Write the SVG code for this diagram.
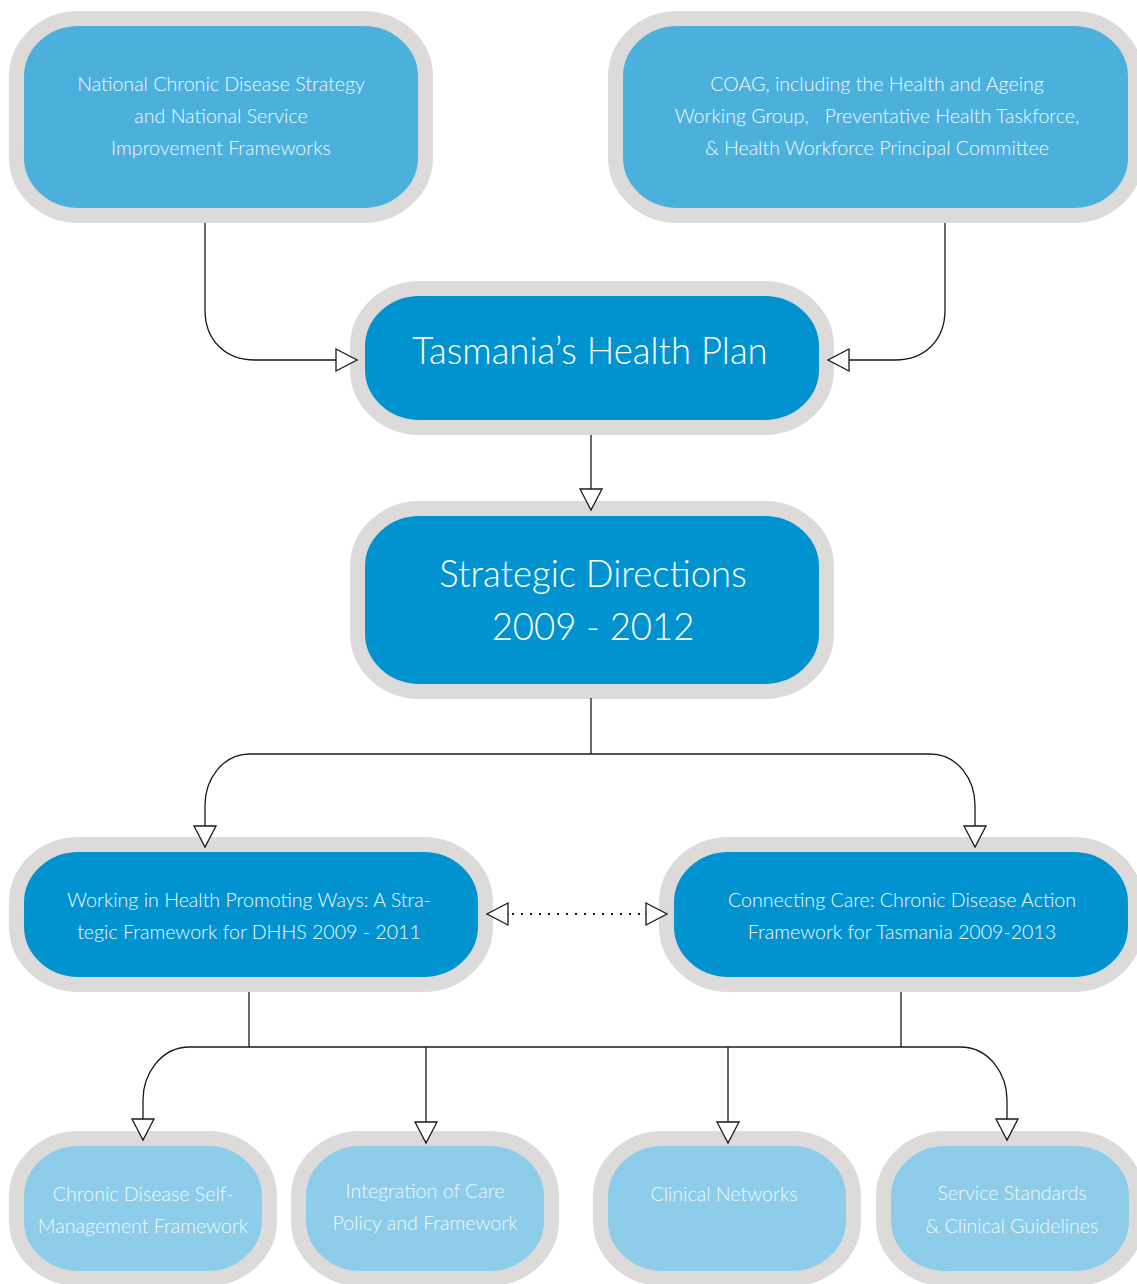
<svg xmlns="http://www.w3.org/2000/svg" width="1137" height="1284" viewBox="0 0 1137 1284">
<style>
.box{stroke:#dcdbda;stroke-width:15}
.mid{fill:#4cb0dc}
.dark{fill:#0093d0}
.light{fill:#8dcde9}
.t{font-family:Lato,"Open Sans","Liberation Sans",sans-serif;font-weight:300;fill:#f2f9fd;text-anchor:middle}
.s{font-size:19.6px}
.b{font-size:36.5px;fill:#ffffff}
.c{fill:none;stroke:#1a1a1a;stroke-width:1.3}
</style>
<defs>
<marker id="ah" markerWidth="24" markerHeight="26" refX="22" refY="12" orient="auto" markerUnits="userSpaceOnUse">
<path d="M1,1 L22,12 L1,23 Z" fill="#fff" stroke="#1a1a1a" stroke-width="1.3"/>
</marker>
</defs>
<rect width="1137" height="1284" fill="#fff"/>
<g id="national">
<rect class="box mid" x="16.5" y="18.5" width="409" height="197" rx="62" ry="58"/>
<text class="t s" x="221" y="91">National Chronic Disease Strategy</text>
<text class="t s" x="221" y="123">and National Service</text>
<text class="t s" x="221" y="155">Improvement Frameworks</text>
</g>
<g id="coag">
<rect class="box mid" x="615.5" y="18.5" width="520" height="197" rx="62" ry="58"/>
<text class="t s" x="877" y="91">COAG, including the Health and Ageing</text>
<text class="t s" x="877" y="123" xml:space="preserve">Working Group,   Preventative Health Taskforce,</text>
<text class="t s" x="877" y="155">&amp; Health Workforce Principal Committee</text>
</g>
<g id="thp">
<rect class="box dark" x="357.5" y="288.5" width="469" height="139" rx="62" ry="58"/>
<text class="t b" x="590" y="364">Tasmania’s Health Plan</text>
</g>
<g id="strategic">
<rect class="box dark" x="357.5" y="508.5" width="469" height="183" rx="62" ry="58"/>
<text class="t b" x="593" y="587">Strategic Directions</text>
<text class="t b" x="593" y="640">2009 - 2012</text>
</g>
<g id="working">
<rect class="box dark" x="16.5" y="844.5" width="469" height="140" rx="62" ry="58"/>
<text class="t s" x="249" y="907">Working in Health Promoting Ways: A Stra-</text>
<text class="t s" x="249" y="939">tegic Framework for DHHS 2009 - 2011</text>
</g>
<g id="connecting">
<rect class="box dark" x="666.5" y="844.5" width="469" height="140" rx="62" ry="58"/>
<text class="t s" x="902" y="907">Connecting Care: Chronic Disease Action</text>
<text class="t s" x="902" y="939">Framework for Tasmania 2009-2013</text>
</g>
<g id="selfmgmt">
<rect class="box light" x="16.5" y="1138.5" width="253" height="140" rx="62" ry="58"/>
<text class="t s" x="143" y="1201">Chronic Disease Self-</text>
<text class="t s" x="143" y="1233">Management Framework</text>
</g>
<g id="integration">
<rect class="box light" x="298.5" y="1138.5" width="253" height="140" rx="62" ry="58"/>
<text class="t s" x="425" y="1198">Integration of Care</text>
<text class="t s" x="425" y="1230">Policy and Framework</text>
</g>
<g id="networks">
<rect class="box light" x="600.5" y="1138.5" width="253" height="140" rx="62" ry="58"/>
<text class="t s" x="724" y="1201">Clinical Networks</text>
</g>
<g id="standards">
<rect class="box light" x="883.5" y="1138.5" width="253" height="140" rx="62" ry="58"/>
<text class="t s" x="1012" y="1200">Service Standards</text>
<text class="t s" x="1012" y="1233">&amp; Clinical Guidelines</text>
</g>
<g id="connectors">
<path class="c" d="M205,223 V310 C205,340 225,360 255,360 H357" marker-end="url(#ah)"/>
<path class="c" d="M945,223 V310 C945,340 925,360 895,360 H828" marker-end="url(#ah)"/>
<path class="c" d="M591,435 V510" marker-end="url(#ah)"/>
<path class="c" d="M591,698 V754"/>
<path class="c" d="M591,754 H250 C222,754 205,780 205,805 V847" marker-end="url(#ah)"/>
<path class="c" d="M591,754 H930 C958,754 975,780 975,805 V847" marker-end="url(#ah)"/>
<path d="M512,914 H643" fill="none" stroke="#1a1a1a" stroke-width="2.2" stroke-dasharray="2 7"/>
<path class="c" d="M509,914 H487" marker-end="url(#ah)"/>
<path class="c" d="M645,914 H667" marker-end="url(#ah)"/>
<path class="c" d="M249,992 V1047"/>
<path class="c" d="M901,992 V1047"/>
<path class="c" d="M426,1047 H190 C160,1047 143,1075 143,1100 V1140" marker-end="url(#ah)"/>
<path class="c" d="M426,1047 V1143" marker-end="url(#ah)"/>
<path class="c" d="M728,1047 V1143" marker-end="url(#ah)"/>
<path class="c" d="M426,1047 H960 C990,1047 1007,1075 1007,1100 V1140" marker-end="url(#ah)"/>
</g>
</svg>
